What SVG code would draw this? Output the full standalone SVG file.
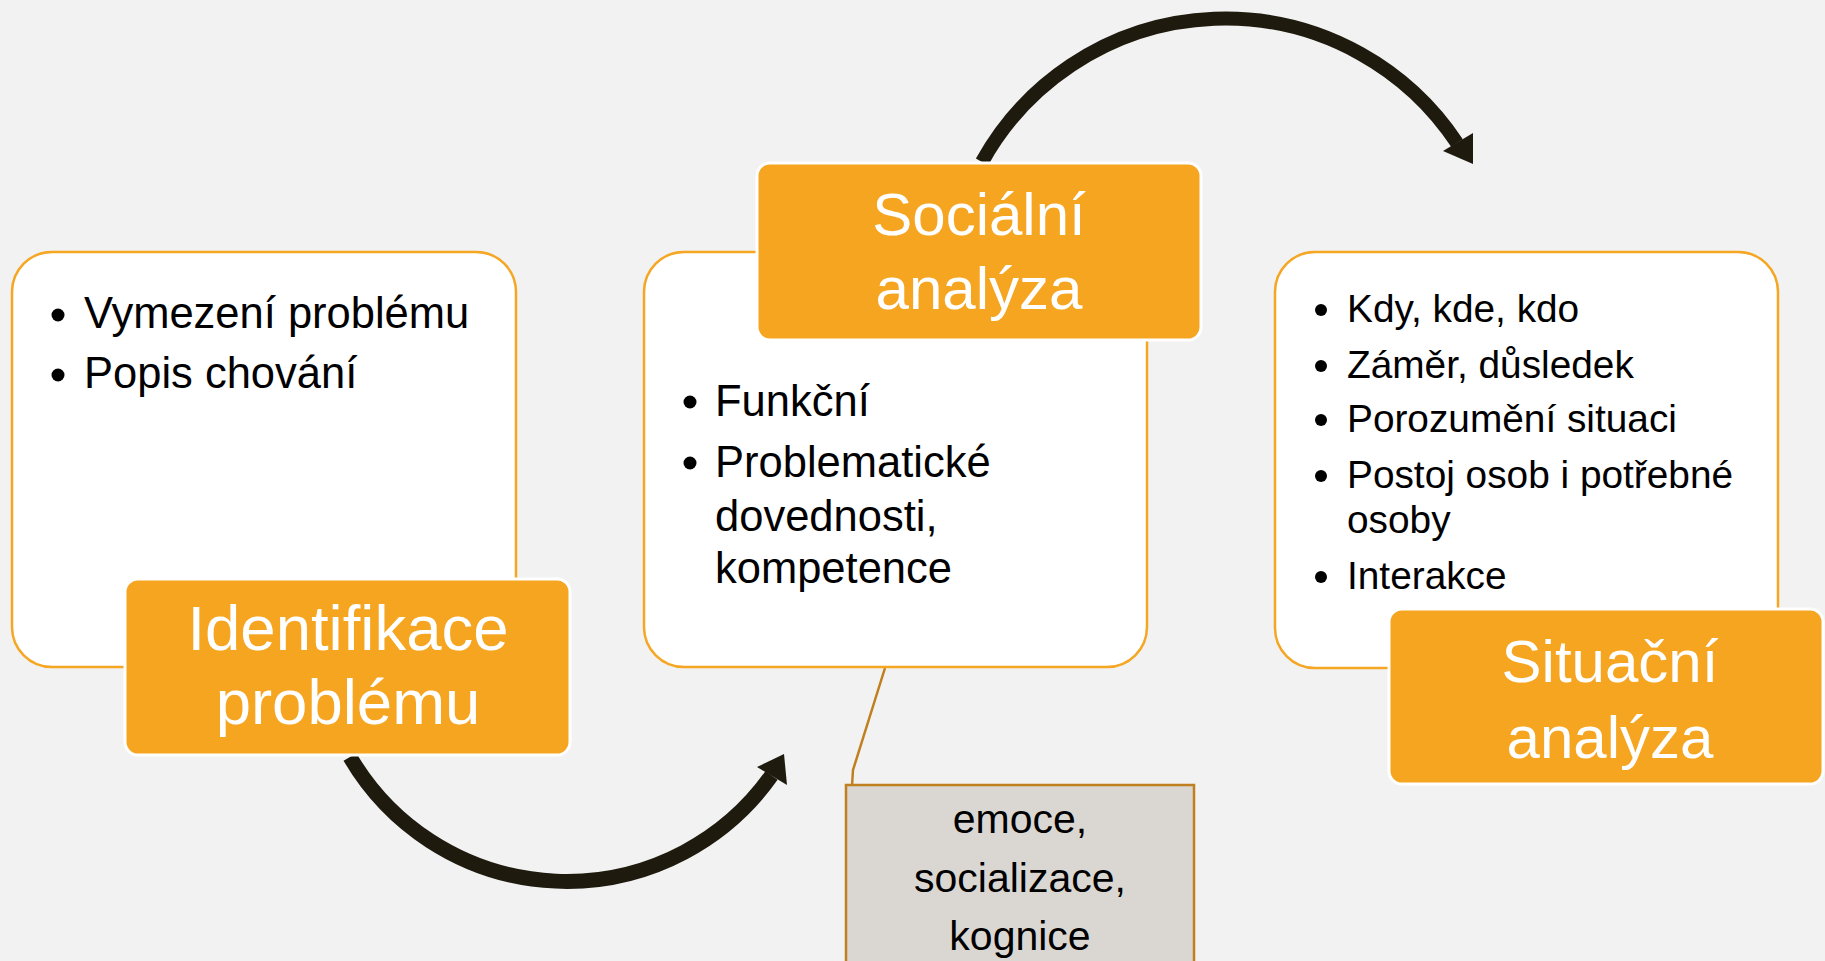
<svg xmlns="http://www.w3.org/2000/svg" width="1825" height="961" viewBox="0 0 1825 961">
<style>
.bg{fill:#f2f2f2}
.card{fill:#ffffff;stroke:#f5a623;stroke-width:2.5}
.title{fill:#f6a521;stroke:#ffffff;stroke-width:3}
.tt{font-family:"Liberation Sans",Arial,sans-serif;fill:#ffffff;text-anchor:middle}
.bt{font-family:"Liberation Sans",Arial,sans-serif;fill:#000000}
.dot{fill:#000000}
.arc{fill:none;stroke:#1e1a0e;stroke-width:14}
.head{fill:#1e1a0e}
.link{fill:none;stroke:#c0801f;stroke-width:2.5}
.note{fill:#dad7d2;stroke:#c0801f;stroke-width:2.5}
.nt{font-family:"Liberation Sans",Arial,sans-serif;fill:#000000;text-anchor:middle;font-size:41px}
</style>
<rect class="bg" x="0" y="0" width="1825" height="961"/>

<g id="connectors">
  <path class="arc" d="M 982 162 A 278 278 0 0 1 1457 143"/>
  <polygon class="head" points="1443,151 1473,133 1473,164"/>
  <path class="arc" style="stroke-width:15" d="M 350 757 A 251 251 0 0 0 771.5 775.5"/>
  <polygon class="head" points="757,767 784,754 787,785"/>
  <polyline class="link" points="885,668 853,770 852,786"/>
</g>

<g id="card-identifikace">
  <rect class="card" x="12" y="252" width="504" height="415" rx="40"/>
  <circle class="dot" cx="58" cy="315" r="6.5"/>
  <text class="bt" x="84" y="328" font-size="43.5">Vymezení problému</text>
  <circle class="dot" cx="58" cy="375" r="6.5"/>
  <text class="bt" x="84" y="388" font-size="43.5">Popis chování</text>
</g>

<g id="card-socialni">
  <rect class="card" x="644" y="252" width="503" height="415" rx="40"/>
  <circle class="dot" cx="690" cy="402" r="6.5"/>
  <text class="bt" x="715" y="416" font-size="43.5">Funkční</text>
  <circle class="dot" cx="690" cy="463" r="6.5"/>
  <text class="bt" x="715" y="477" font-size="43.5">Problematické</text>
  <text class="bt" x="715" y="531" font-size="43.5">dovednosti,</text>
  <text class="bt" x="715" y="583" font-size="43.5">kompetence</text>
</g>

<g id="card-situacni">
  <rect class="card" x="1275" y="252" width="503" height="416" rx="40"/>
  <circle class="dot" cx="1321" cy="310" r="6"/>
  <text class="bt" x="1347" y="322" font-size="38.8">Kdy, kde, kdo</text>
  <circle class="dot" cx="1321" cy="366" r="6"/>
  <text class="bt" x="1347" y="378" font-size="38.8">Záměr, důsledek</text>
  <circle class="dot" cx="1321" cy="420" r="6"/>
  <text class="bt" x="1347" y="432" font-size="38.8">Porozumění situaci</text>
  <circle class="dot" cx="1321" cy="476" r="6"/>
  <text class="bt" x="1347" y="488" font-size="38.8">Postoj osob i potřebné</text>
  <text class="bt" x="1347" y="533" font-size="38.8">osoby</text>
  <circle class="dot" cx="1321" cy="577" r="6"/>
  <text class="bt" x="1347" y="589" font-size="38.8">Interakce</text>
</g>

<g id="title-identifikace">
  <rect class="title" x="125" y="579" width="445" height="176" rx="13"/>
  <text class="tt" x="348" y="650" font-size="63.5">Identifikace</text>
  <text class="tt" x="348" y="724" font-size="63.5">problému</text>
</g>

<g id="title-socialni">
  <rect class="title" x="757" y="163" width="444" height="177" rx="13"/>
  <text class="tt" x="979" y="235" font-size="60">Sociální</text>
  <text class="tt" x="979" y="309" font-size="60">analýza</text>
</g>

<g id="title-situacni">
  <rect class="title" x="1389" y="609" width="434" height="175" rx="13"/>
  <text class="tt" x="1610" y="682" font-size="60">Situační</text>
  <text class="tt" x="1610" y="758" font-size="60">analýza</text>
</g>

<g id="note-emoce">
  <rect class="note" x="846" y="785" width="348" height="200"/>
  <text class="nt" x="1020" y="833">emoce,</text>
  <text class="nt" x="1020" y="892">socializace,</text>
  <text class="nt" x="1020" y="950">kognice</text>
</g>
</svg>
